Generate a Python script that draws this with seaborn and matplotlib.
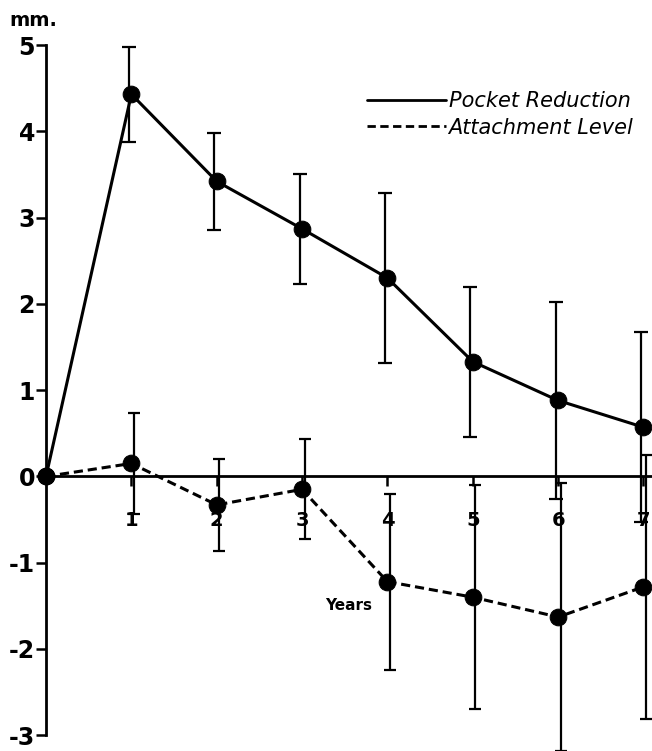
import matplotlib
matplotlib.use("Agg")
import matplotlib.pyplot as plt
import pandas as pd
import seaborn as sns

years = [0, 1, 2, 3, 4, 5, 6, 7]
pocket_reduction = [0, 4.43, 3.42, 2.87, 2.30, 1.33, 0.88, 0.57]
pocket_err = [0, 0.55, 0.56, 0.64, 0.98, 0.87, 1.14, 1.10]
attachment_level = [0, 0.15, -0.33, -0.15, -1.22, -1.40, -1.63, -1.28]
attachment_err = [0, 0.59, 0.53, 0.58, 1.02, 1.30, 1.55, 1.53]
y_ticks = [-3, -2, -1, 0, 1, 2, 3, 4, 5]
x_ticks = [1, 2, 3, 4, 5, 6, 7]

df = pd.DataFrame({
    "year": years * 2,
    "value": pocket_reduction + attachment_level,
    "series": ["Pocket Reduction"] * 8 + ["Attachment Level"] * 8,
})

sns.set_style("white", {"xtick.bottom": True, "ytick.left": True,
                        "text.color": "black", "xtick.color": "black",
                        "ytick.color": "black"})
plt.rcParams["font.family"] = ["DejaVu Sans"]

fig = plt.figure(figsize=(6.52, 7.51), dpi=100)
ax = fig.add_axes([0.0706, 0.021, 0.9294, 0.919])

sns.lineplot(data=df, x="year", y="value", style="series",
             dashes={"Pocket Reduction": "", "Attachment Level": (3, 1.6)},
             color="black", linewidth=2.2, marker="o", markersize=12,
             markeredgecolor="black", ax=ax, legend=False, clip_on=False)

# error bars, drawn a touch off-centre like the original
eb1 = ax.errorbar([x - 0.03 for x in years[1:]], pocket_reduction[1:], yerr=pocket_err[1:],
                  fmt="none", ecolor="black", elinewidth=1.6, capsize=5, capthick=1.6)
eb2 = ax.errorbar([x + 0.03 for x in years[1:]], attachment_level[1:], yerr=attachment_err[1:],
                  fmt="none", ecolor="black", elinewidth=1.6, capsize=4, capthick=1.6)
for eb in (eb1, eb2):
    for part in eb.lines[1]:
        part.set_clip_on(False)
    for part in eb.lines[2]:
        part.set_clip_on(False)

ax.set_xlim(0, 7.1)
ax.set_ylim(-3, 5)
ax.spines["top"].set_visible(False)
ax.spines["right"].set_visible(False)
ax.spines["bottom"].set_position(("data", 0))
ax.spines["left"].set_bounds(-3, 5)
for s in ("left", "bottom"):
    ax.spines[s].set_linewidth(2)
    ax.spines[s].set_color("black")

ax.set_yticks(y_ticks)
ax.set_yticklabels([str(t) for t in y_ticks], fontweight="bold")
ax.set_xticks(x_ticks)
ax.set_xticklabels([str(t) for t in x_ticks], fontweight="bold")
ax.tick_params(axis="y", direction="out", length=7, width=1.8, labelsize=17, pad=1,
               colors="black")
ax.tick_params(axis="x", direction="out", length=7, width=1.8, labelsize=14, pad=18,
               colors="black")
ax.set_xlabel("")
ax.set_ylabel("")

fig.text(0.015, 0.985, "mm.", fontsize=14, fontweight="bold", va="top", ha="left",
         color="black")
ax.text(3.55, -1.5, "Years", fontsize=11, fontweight="bold", ha="center", va="center",
        color="black")

handles = [
    plt.Line2D([0], [0], color="black", lw=2, linestyle="-"),
    plt.Line2D([0], [0], color="black", lw=2, linestyle=(0, (3, 1.6))),
]
leg = ax.legend(handles, ["Pocket Reduction", "Attachment Level"], loc="upper right",
                bbox_to_anchor=(1.0, 0.96), frameon=False, handlelength=3.8,
                handletextpad=0.1, labelspacing=0.3,
                prop={"style": "italic", "size": 15})
for t in leg.get_texts():
    t.set_color("black")

fig.savefig("out.png", dpi=100)
